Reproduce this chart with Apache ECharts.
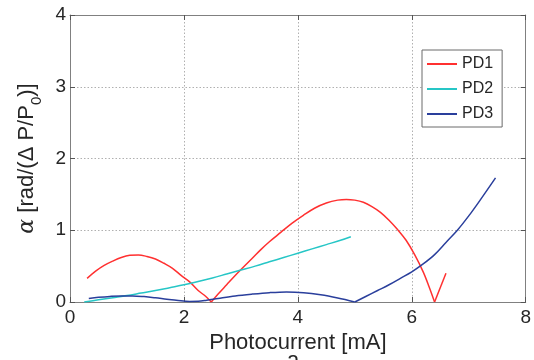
<!DOCTYPE html>
<html>
<head>
<meta charset="utf-8">
<script src="https://cdn.jsdelivr.net/npm/echarts@6/dist/echarts.min.js"></script>
<style>
html,body{margin:0;padding:0;background:#fff;}
#c{width:534px;height:360px;}
</style>
</head>
<body>
<div id="c"></div>
<script>
// ---- data ----
var seriesNames = ['PD1', 'PD2', 'PD3'];
var xTicks = [0, 2, 4, 6, 8];
var yTicks = [0, 1, 2, 3, 4];

// PD1 as three arcs (sharp minima between them)
var pd1a = [[0.3,0.33],[0.45,0.43],[0.6,0.51],[0.75,0.57],[0.9,0.62],[1.05,0.65],[1.2,0.655],[1.35,0.635],[1.5,0.6],[1.65,0.54],[1.8,0.47],[1.95,0.37],[2.1,0.28],[2.25,0.16],[2.38,0.08],[2.48,0.0]];
var pd1b = [[2.48,0.0],[2.6,0.11],[2.75,0.24],[2.9,0.37],[3.05,0.49],[3.2,0.61],[3.35,0.73],[3.5,0.84],[3.7,0.97],[3.9,1.1],[4.1,1.21],[4.3,1.31],[4.5,1.38],[4.7,1.42],[4.85,1.43],[5.0,1.42],[5.15,1.39],[5.3,1.33],[5.45,1.25],[5.6,1.14],[5.75,1.01],[5.9,0.86],[6.05,0.66],[6.2,0.42],[6.3,0.22],[6.4,0.0]];
var pd1c = [[6.4,0.0],[6.6,0.40]];

var pd2 = [[0.25,0],[0.5,0.03],[0.75,0.06],[1.0,0.09],[1.25,0.125],[1.5,0.16],[1.75,0.2],[2.0,0.24],[2.25,0.285],[2.5,0.335],[2.75,0.39],[3.0,0.445],[3.25,0.5],[3.5,0.56],[3.75,0.62],[4.0,0.68],[4.25,0.74],[4.5,0.8],[4.75,0.86],[4.93,0.91]];

// PD3 as two arcs (sharp minimum at 5.0)
var pd3a = [[0.33,0.05],[0.5,0.065],[0.7,0.078],[0.9,0.085],[1.1,0.085],[1.3,0.075],[1.5,0.058],[1.7,0.038],[1.9,0.02],[2.1,0.008],[2.25,0.01],[2.4,0.025],[2.6,0.05],[2.9,0.085],[3.2,0.11],[3.5,0.13],[3.8,0.14],[4.1,0.13],[4.4,0.1],[4.7,0.055],[5.0,0.0]];
var pd3b = [[5.0,0.0],[5.2,0.08],[5.4,0.16],[5.6,0.24],[5.8,0.33],[6.0,0.42],[6.2,0.53],[6.4,0.66],[6.6,0.83],[6.8,1.0],[7.0,1.2],[7.2,1.42],[7.47,1.73]];

var colors = ['#ff3030', '#26c6c6', '#2a3f9c'];
var xName = 'Photocurrent [mA]';
var caption = 'a';

// ---- chart ----
var chart = echarts.init(document.getElementById('c'), null, {renderer: 'canvas'});
var font = 'Liberation Sans, Arial, Helvetica, sans-serif';
var frameColor = '#808080';
var textColor = '#262626';

function baseX(pos, showLabel) {
  return {
    type: 'value', position: pos, min: xTicks[0], max: xTicks[xTicks.length - 1], interval: 2,
    axisLine: {show: true, onZero: false, lineStyle: {color: frameColor, width: 1}},
    axisTick: {show: true, inside: true, length: 5, lineStyle: {color: '#555'}},
    axisLabel: {show: showLabel, fontSize: 19, color: textColor, fontFamily: font, margin: 6},
    splitLine: {show: showLabel, lineStyle: {color: '#b0b0b0', type: [1.5, 2], width: 1}}
  };
}
function baseY(pos, showLabel) {
  return {
    type: 'value', position: pos, min: yTicks[0], max: yTicks[yTicks.length - 1], interval: 1,
    axisLine: {show: true, onZero: false, lineStyle: {color: frameColor, width: 1}},
    axisTick: {show: true, inside: true, length: 5, lineStyle: {color: '#555'}},
    axisLabel: {show: showLabel, fontSize: 19, color: textColor, fontFamily: font, margin: 4},
    splitLine: {show: showLabel, lineStyle: {color: '#b0b0b0', type: [1.5, 2], width: 1}}
  };
}

var xMain = baseX('bottom', true);
xMain.name = xName;
xMain.nameLocation = 'middle';
xMain.nameGap = 24;
xMain.nameTextStyle = {fontSize: 22, color: textColor, fontFamily: font};

var yMain = baseY('left', true);
yMain.name = '{al|α} [rad/(Δ P/P{sub|0})]';
yMain.nameLocation = 'middle';
yMain.nameGap = 26;
yMain.nameRotate = 90;
yMain.nameTextStyle = {
  fontSize: 22, color: textColor, fontFamily: font, lineHeight: 22,
  rich: {
    al: {fontSize: 22, fontStyle: 'italic', fontFamily: 'DejaVu Serif, serif', color: textColor, lineHeight: 22},
    sub: {fontSize: 15, color: textColor, fontFamily: font, verticalAlign: 'bottom', lineHeight: 34}
  }
};

function mk(name, data, ci) {
  return {
    name: name, type: 'line', data: data, xAxisIndex: 0, yAxisIndex: 0,
    symbol: 'none', showSymbol: false, smooth: 0.35, clip: true,
    lineStyle: {color: colors[ci], width: 1.5}, itemStyle: {color: colors[ci]},
    animation: false
  };
}

var series = [
  mk(seriesNames[0], pd1a, 0),
  mk(seriesNames[0], pd1b, 0),
  mk(seriesNames[0], pd1c, 0),
  mk(seriesNames[1], pd2, 1),
  mk(seriesNames[2], pd3a, 2),
  mk(seriesNames[2], pd3b, 2)
];

chart.setOption({
  animation: false,
  backgroundColor: '#fff',
  grid: {left: 70, right: 8, top: 15, bottom: 58, containLabel: false},
  xAxis: [xMain, baseX('top', false)],
  yAxis: [yMain, baseY('right', false)],
  legend: {
    data: seriesNames, orient: 'vertical', left: 422, top: 50,
    icon: 'rect', itemWidth: 30, itemHeight: 2, itemGap: 9,
    padding: [6, 9, 5, 5], backgroundColor: '#fff', borderColor: '#6a6a6a', borderWidth: 1,
    textStyle: {fontSize: 16, color: textColor, fontFamily: font}
  },
  graphic: [{
    type: 'text', left: 287, top: 350,
    style: {text: caption, fontSize: 22, fill: textColor, font: '22px Liberation Sans, Arial, sans-serif'}
  }],
  series: series
});
</script>
</body>
</html>
